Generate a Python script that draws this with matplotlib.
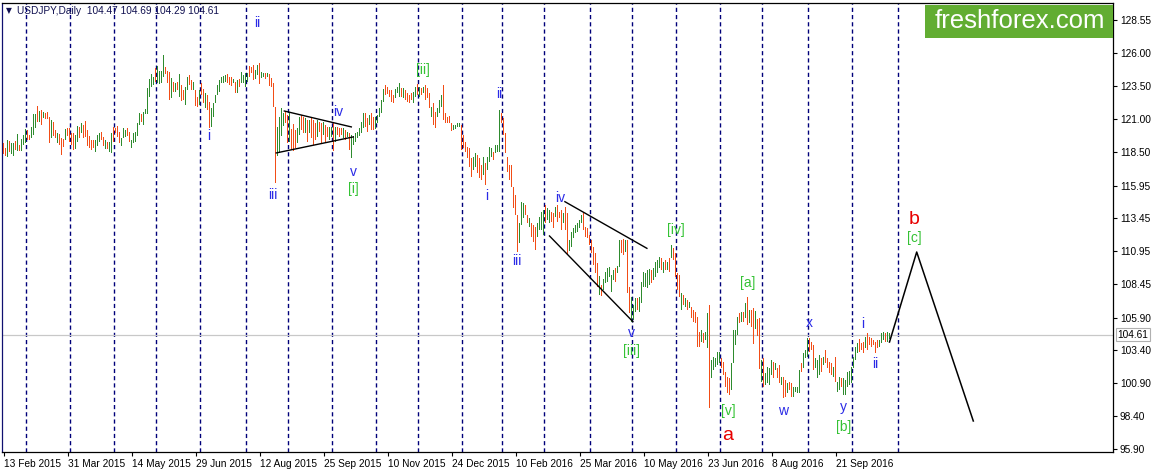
import matplotlib
matplotlib.use('Agg')
import matplotlib.pyplot as plt
import numpy as np
from matplotlib.patches import Rectangle

plt.rcParams['lines.scale_dashes'] = False

# ---------------- data (USDJPY daily bars) ----------------
highs = [
    119.22,118.84,119.42,119.37,119.22,119.22,119.34,119.88,119.04,119.50,
    119.80,120.26,120.18,119.80,120.43,121.37,121.40,122.01,121.65,121.70,
    121.58,121.45,121.53,121.20,120.94,120.81,120.18,119.93,119.88,119.55,
    119.50,120.26,120.31,120.31,119.93,119.93,119.80,120.49,120.38,120.69,
    120.56,120.87,120.18,119.75,119.42,119.42,119.42,119.80,119.98,120.05,
    119.67,119.42,119.29,119.29,119.93,120.43,120.31,120.49,120.05,119.55,
    120.31,120.18,120.31,120.05,119.42,119.93,120.00,120.69,121.45,121.37,
    121.58,121.75,123.35,124.06,124.44,124.24,124.87,125.05,124.67,124.67,
    125.89,125.00,124.70,124.62,124.11,123.86,123.73,123.86,124.44,123.61,
    123.23,123.48,124.24,124.37,123.99,123.86,123.23,122.72,123.23,123.78,
    123.28,122.97,122.85,122.34,121.83,122.21,122.85,123.61,123.99,124.24,
    124.29,124.37,124.44,124.19,124.24,124.04,123.86,123.99,124.04,124.60,
    124.37,124.49,124.49,125.05,124.95,125.13,124.75,125.13,125.26,124.62,
    124.54,124.54,124.54,124.44,124.11,123.73,121.96,120.43,121.20,121.83,
    121.50,121.58,121.32,121.45,120.23,120.64,120.18,120.31,121.20,121.32,
    121.20,121.07,120.94,120.94,121.07,120.94,120.69,120.94,120.81,120.69,
    120.81,120.56,120.43,120.43,120.43,120.69,120.38,120.43,120.31,120.31,
    120.31,120.18,120.05,119.92,119.80,119.72,119.92,120.05,120.31,120.81,
    121.50,121.45,121.07,121.32,121.45,121.20,121.20,121.32,121.83,122.46,
    123.30,123.60,123.48,123.22,123.22,122.84,123.27,123.48,123.73,123.35,
    123.35,123.22,123.02,122.84,122.97,123.10,123.43,123.68,123.48,123.35,
    123.48,123.60,123.35,123.02,121.95,122.21,121.57,121.83,122.46,122.84,
    123.60,121.45,121.20,121.24,120.69,120.56,120.56,120.69,120.69,120.56,
    119.80,119.29,118.91,118.78,118.02,118.10,118.40,118.27,118.02,117.51,
    118.15,117.69,118.15,118.91,118.78,118.53,119.04,119.04,121.70,121.50,
    121.07,119.92,118.15,117.51,117.51,115.86,115.23,113.71,113.08,114.72,
    114.60,114.47,113.71,113.46,113.08,112.95,112.82,113.08,113.58,113.96,
    114.09,114.47,114.22,114.09,113.96,113.84,114.34,114.47,113.96,114.09,
    113.84,114.34,113.84,111.80,112.44,112.69,112.95,113.07,113.33,113.71,
    113.83,112.82,112.69,112.19,111.80,111.30,110.79,110.03,109.10,108.38,
    108.81,109.39,109.65,109.77,109.14,109.52,109.65,109.83,111.80,111.80,
    111.85,111.80,111.80,108.25,107.49,106.86,107.37,107.37,107.49,108.63,
    109.39,109.27,109.52,109.57,109.52,109.65,110.16,110.28,110.54,110.41,
    110.16,110.28,110.16,110.41,111.42,111.17,110.79,109.27,109.14,107.75,
    107.62,107.37,107.24,107.11,106.73,106.48,106.35,105.97,104.83,104.96,
    104.70,104.83,106.22,106.86,102.67,102.92,102.80,103.31,103.31,102.80,
    102.54,101.78,101.40,101.28,102.42,104.96,104.96,105.97,106.22,106.35,
    106.35,106.98,107.49,106.48,106.50,106.61,106.40,105.80,105.85,102.68,
    102.80,101.66,102.17,102.04,102.68,102.55,102.42,102.04,102.30,101.41,
    101.41,101.16,100.90,101.03,100.90,100.65,100.65,100.65,101.92,102.42,
    103.19,103.44,104.33,104.33,104.07,103.82,102.80,102.68,103.06,102.80,
    102.93,103.44,102.80,102.55,102.42,102.17,102.93,101.03,101.41,101.28,
    101.28,101.16,101.79,101.87,102.17,102.93,103.69,103.95,104.25,103.95,
    104.07,104.45,104.71,104.45,104.33,104.20,104.07,104.20,104.20,104.71,
    104.83,104.71,104.78,104.69,
]
lows = [
    118.35,118.23,118.15,118.48,118.35,118.20,118.66,118.61,118.58,118.61,
    119.04,119.22,119.42,119.42,119.55,119.80,120.31,120.81,120.81,120.56,
    121.07,121.02,121.02,119.22,119.55,119.75,119.55,119.17,119.04,118.28,
    118.91,119.42,119.75,119.29,119.04,118.66,118.73,119.29,119.60,119.93,
    119.55,119.67,118.99,118.79,118.66,118.79,118.48,118.99,119.29,119.42,
    118.99,118.73,118.73,118.53,118.46,119.29,119.93,119.67,119.17,118.96,
    119.55,119.67,119.72,119.29,118.84,119.17,119.29,119.75,120.56,120.76,
    120.56,121.37,121.37,122.72,123.48,123.61,123.86,123.73,123.66,123.73,
    124.24,124.42,123.78,122.46,122.59,123.10,123.10,123.23,122.72,122.41,
    122.46,122.08,123.23,123.61,123.23,123.23,122.01,121.91,122.08,122.85,
    122.21,121.83,121.70,120.31,120.43,121.20,122.26,122.85,123.10,123.73,
    123.73,123.86,123.73,123.61,123.53,123.73,122.97,123.02,123.48,123.73,
    123.73,123.48,123.86,124.24,124.49,123.99,124.04,124.37,123.68,124.11,
    124.24,124.04,124.24,123.53,123.43,121.96,116.12,118.20,118.41,119.72,
    120.49,120.69,119.22,119.29,118.66,118.61,118.79,119.17,119.80,120.18,
    119.92,119.92,119.29,119.92,119.54,119.04,119.42,119.67,120.05,119.16,
    119.80,119.29,119.67,119.42,119.67,118.61,119.29,119.80,119.67,119.80,
    119.54,119.42,119.67,118.66,118.02,119.04,119.29,119.54,119.72,119.92,
    120.31,120.43,120.05,120.56,120.18,120.18,120.23,120.69,121.20,121.45,
    122.34,122.84,122.92,122.72,122.34,122.21,122.59,122.97,122.72,122.72,
    122.59,122.46,122.34,122.21,122.46,122.26,122.72,122.84,122.72,122.84,
    122.97,122.46,122.59,121.83,121.20,120.56,120.31,121.20,121.45,121.95,
    120.94,120.69,120.69,120.74,120.13,120.18,120.23,120.38,120.43,118.66,
    118.78,118.53,118.02,117.39,116.63,117.13,117.39,116.88,116.50,116.37,
    116.75,116.00,117.13,117.77,118.15,117.89,118.40,118.53,118.53,120.69,
    119.80,118.40,117.01,116.37,115.86,114.22,113.71,110.92,111.60,112.95,
    113.46,113.71,113.08,112.82,112.06,111.68,111.05,112.06,112.57,112.57,
    112.19,113.08,113.33,113.08,113.20,112.70,113.58,113.20,113.46,112.57,
    113.08,112.57,110.67,110.95,111.30,111.93,112.31,112.44,112.69,113.07,
    112.57,112.06,111.93,111.42,110.79,109.90,109.27,108.20,107.62,107.54,
    108.00,108.51,108.63,109.01,107.87,108.76,108.63,109.27,109.77,110.79,
    110.66,110.92,107.75,106.22,105.59,105.72,106.35,106.48,106.35,106.98,
    108.25,108.25,108.13,108.38,108.51,108.76,109.01,109.27,109.65,109.52,
    109.27,109.52,109.52,109.39,110.41,110.28,109.01,108.00,107.49,106.48,
    106.86,106.73,106.48,106.60,105.84,105.59,105.46,103.69,103.69,104.07,
    103.94,104.19,103.56,98.99,101.28,101.91,102.17,102.29,102.42,102.04,
    101.53,100.64,100.13,100.01,100.39,102.42,103.81,104.57,105.46,105.59,
    105.59,105.84,105.33,105.46,105.20,103.92,105.00,104.50,101.97,101.03,
    100.65,100.77,100.90,100.77,101.54,101.28,101.92,101.28,100.90,100.77,
    99.76,99.89,100.14,100.39,99.89,99.89,100.27,100.14,100.14,101.79,
    102.04,102.80,102.93,103.31,103.44,101.92,102.04,101.28,101.54,101.79,
    102.30,102.42,102.04,101.66,101.54,101.41,101.03,100.27,100.39,100.65,
    100.01,100.01,100.65,100.77,100.90,102.04,102.68,103.19,103.31,103.44,
    103.19,103.57,103.44,103.82,103.69,103.82,103.19,103.57,103.69,103.95,
    104.20,104.07,104.07,104.29,
]
# u = close above open (green bar), d = close below open (red bar)
direction = """
d d u d u u d u d u  u u d d u u u d u d  u d d d u d d u d d  d u d d d d u u d u
d d d d d d u u u d  d u d u u d d d d u  u u d d u u u u u d  u u u u u u d u u u
u d d d u d u d u d  d u u d d u d d u d  d u d d u u u u u u  u u d d d u d u d u
u u u d d d u u d u  u d u d d d d u u u  u d d u d d d u u d  d u d u d d d u d d
u d d u u d u d d d  u d u d u u u u u u  u d d u d d u u u u  u d d d d d u u u d
u d d d d u u d u d  u d d d u d d u u u  d d d d d u u u u d  d d d d d u u d d d
u d u u u d u u u d  d d d d d d d d u u  u d d u d d d u u u  u d u u d d u d d d
u d d u u u u u u u  d d d d d d d d u d  u u u u u u d u u d  d u d d u u u d u u
u u u u d u u u u d  u d u d u d d d d u  d u d u d d d d d u  d u u d u u u u u d
d d d d u u u u d u  d u d u d d u d d u  d u u u u d u d d u  d d u d d u u u u d
u u u d d d u u u d  u d d d d u d u u d  u u u u u u u u d d  d u d d d d d d u u
u d u u
""".split()

last_ohlc = [104.47, 104.69, 104.29, 104.61]
date_labels = ["13 Feb 2015", "31 Mar 2015", "14 May 2015", "29 Jun 2015",
               "12 Aug 2015", "25 Sep 2015", "10 Nov 2015", "24 Dec 2015",
               "10 Feb 2016", "25 Mar 2016", "10 May 2016", "23 Jun 2016",
               "8 Aug 2016", "21 Sep 2016"]
bars_per_label = 32
month_starts = [11, 33, 55, 76, 98, 121, 142, 164, 186, 207, 229, 249, 270,
                293, 314, 336, 358, 379, 402, 424, 447]
price_ticks = [128.55, 126.00, 123.50, 121.00, 118.50, 115.95, 113.45, 110.95,
               108.45, 105.90, 103.40, 100.90, 98.40, 95.90]

# drawn annotations (bar index, price)
triangle_upper = ([140.4, 173.9], [121.62, 120.41])
triangle_lower = ([136.4, 174.9], [118.43, 119.65])
wedge_upper = ([280.7, 321.7], [114.72, 111.17])
wedge_lower = ([273.0, 314.7], [112.11, 105.59])
forecast_x = [443.0, 456.6, 484.9]
forecast_y = [104.04, 110.89, 98.03]

wave_text = ["i", "ii", "iii", "iv", "v", "[i]", "[ii]", "ii", "i", "iii", "iv", "v",
             "[iii]", "[iv]", "[v]", "a", "[a]", "w", "x", "y", "[b]", "i", "ii", "b", "[c]"]
wave_x = [102.4, 126.9, 134.9, 167.4, 174.9, 174.9, 209.9, 247.9, 241.4, 256.9, 278.4, 313.9,
          313.9, 336.4, 362.4, 361.9, 371.9, 389.9, 402.9, 419.9, 419.9, 429.4, 435.9, 455.4, 455.4]
wave_y = [119.72, 128.32, 115.23, 121.55, 116.98, 115.69, 124.74, 122.92, 115.16, 110.21, 115.00, 104.73,
          103.36, 112.57, 98.79, 96.89, 108.53, 98.79, 105.49, 99.10, 97.58, 105.41, 102.37, 113.33, 111.96]
wave_kind = ["m", "m", "m", "m", "m", "g", "g", "m", "m", "m", "m", "m",
             "g", "g", "g", "r", "g", "m", "m", "m", "g", "m", "m", "r", "g"]

# ---------------- drawing ----------------
W, H = 1155, 473
fig = plt.figure(figsize=(W / 100, H / 100), dpi=100)
fig.patch.set_facecolor('white')
ax = fig.add_axes([2 / W, 21 / H, 1111 / W, 449 / H])
ax.set_xlim(-0.75, 554.75)
ax.set_ylim(95.67, 129.84)

n = min(len(highs), len(lows), len(direction))
xs = np.arange(n)
hi = np.array(highs[:n])
lo = np.array(lows[:n])
up = np.array([d == 'u' for d in direction[:n]])

UP_C = '#2e8b2e'
DN_C = '#f24d16'
GRID_C = '#00007a'

for m in month_starts:
    ax.axvline(m, color=GRID_C, lw=1.0, linestyle=(0, (3.0, 2.2)), zorder=1)

ax.axhline(last_ohlc[3], color='#c8c8c8', lw=0.9, zorder=1)

bar_colors = [UP_C if u else DN_C for u in up]
ax.bar(xs, hi - lo, bottom=lo, width=0.55, color=bar_colors, linewidth=0,
       antialiased=False, zorder=3)

for seg in (triangle_upper, triangle_lower, wedge_upper, wedge_lower):
    ax.plot(seg[0], seg[1], color='black', lw=1.0, zorder=4)
ax.plot(forecast_x, forecast_y, color='black', lw=1.1, zorder=4)

colors = {"m": "#2a2ae6", "g": "#34c234", "r": "#e80000"}
for t, x, y, k in zip(wave_text, wave_x, wave_y, wave_kind):
    size = 14 if k == "r" else 10
    ax.text(x, y, t, color=colors[k], fontsize=size, ha='center', va='center',
            family='Liberation Sans', zorder=5)

# axes styling
for s in ax.spines.values():
    s.set_color('black')
    s.set_linewidth(0.9)
ax.spines['left'].set_color('#101070')

ax.yaxis.tick_right()
ax.set_yticks(price_ticks)
ax.set_yticklabels([f"{p:.2f}" for p in price_ticks])
label_pos = [i * bars_per_label for i in range(len(date_labels))]
ax.set_xticks(label_pos)
ax.set_xticklabels(date_labels, ha='left')
ax.tick_params(axis='both', direction='out', length=3, width=0.8, colors='black',
               labelsize=7.3, pad=2)
for lab in ax.get_xticklabels() + ax.get_yticklabels():
    lab.set_family('Liberation Sans')

# current price label
ax.text(1.004, (last_ohlc[3] - 95.67) / (129.84 - 95.67), f"{last_ohlc[3]:.2f}",
        transform=ax.transAxes, ha='left', va='center', fontsize=7.3,
        family='Liberation Sans', color='black',
        bbox=dict(boxstyle='square,pad=0.15', fc='white', ec='#b0b0b0', lw=0.8),
        zorder=6, clip_on=False)

# header
fig.text(6 / W, 1 - 11 / H, "\u25BC", fontsize=5.5, color='#101050', va='center',
         family='DejaVu Sans')
fig.text(17 / W, 1 - 11 / H,
         "USDJPY,Daily  " + " ".join(f"{v:.2f}" for v in last_ohlc),
         fontsize=7.3, color='#101050', va='center', family='Liberation Sans')

# logo
fig.patches.append(Rectangle((925 / W, 1 - 38 / H), 188 / W, 33 / H,
                             transform=fig.transFigure, fc='#62ad32', ec='none', zorder=10))
fig.text(1020 / W, 1 - 21 / H, "freshforex.com", color='white', fontsize=18.5,
         ha='center', va='center', family='Liberation Sans', zorder=11)

fig.savefig('out.png', dpi=100, facecolor='white')
